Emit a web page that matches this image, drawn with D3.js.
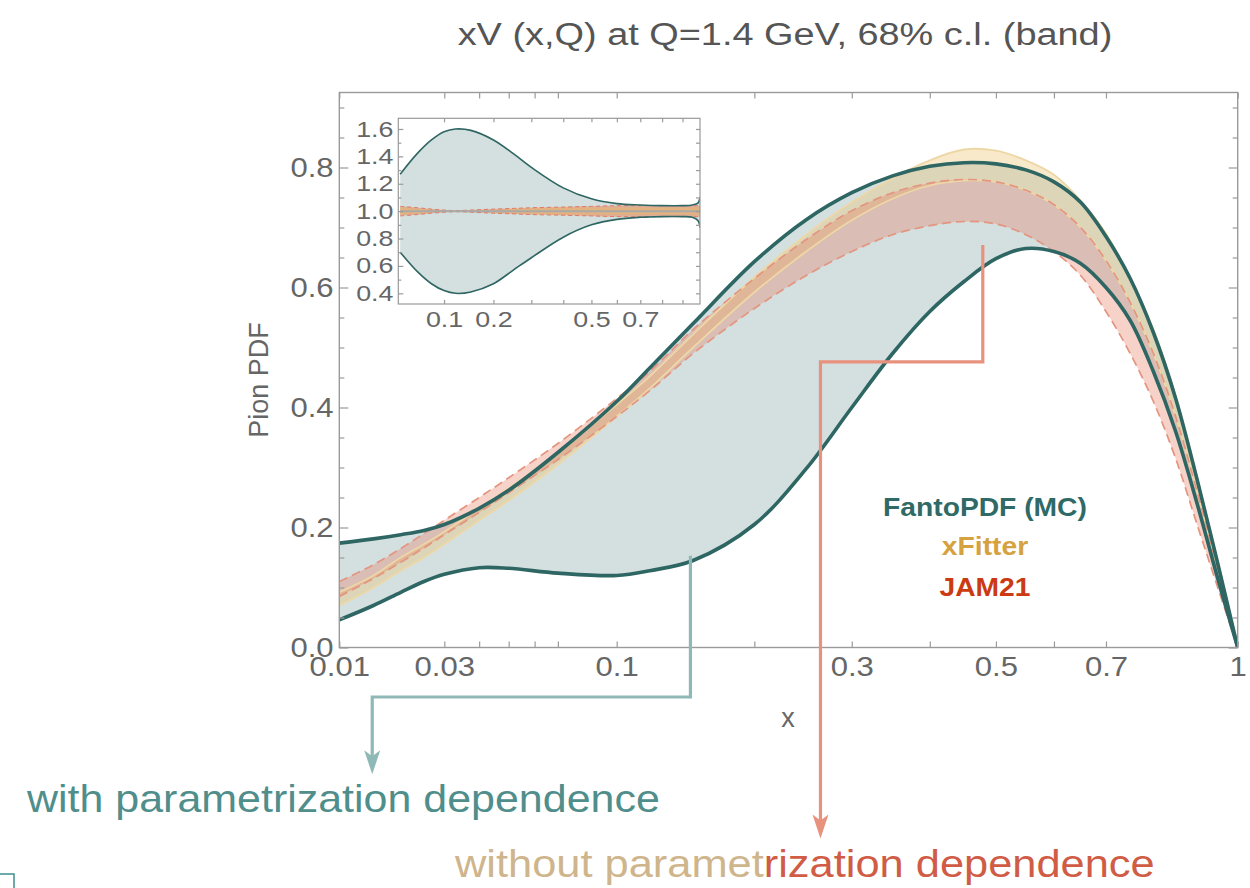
<!DOCTYPE html>
<html>
<head>
<meta charset="utf-8">
<script src="https://cdn.jsdelivr.net/npm/d3@7"></script>
<style>
body { margin: 0; background: #fff; }
text { font-family: "Liberation Sans", Arial, Helvetica, sans-serif; }
</style>
</head>
<body>
<svg id="chart" width="1250" height="888"></svg>
<script>
// ---- main panel data ----
var xGrid   = [0.01, 0.015, 0.02, 0.025, 0.03, 0.04, 0.05, 0.07, 0.1, 0.12, 0.15, 0.2, 0.25, 0.3,
               0.35, 0.4, 0.45, 0.5, 0.55, 0.6, 0.65, 0.7, 0.75, 0.8, 0.85, 0.9, 0.95, 1.0];
var fantoUp = [0.174, 0.181, 0.188, 0.195, 0.205, 0.232, 0.262, 0.325, 0.41, 0.466, 0.54, 0.643, 0.713, 0.758,
               0.786, 0.802, 0.808, 0.806, 0.796, 0.776, 0.742, 0.685, 0.615, 0.525, 0.415, 0.28, 0.14, 0.0];
var fantoLo = [0.046, 0.07, 0.092, 0.11, 0.122, 0.133, 0.132, 0.124, 0.12, 0.128, 0.145, 0.205, 0.298, 0.40,
               0.49, 0.56, 0.61, 0.648, 0.665, 0.66, 0.64, 0.60, 0.545, 0.46, 0.36, 0.24, 0.115, 0.0];
var xfUp    = [0.092, 0.12, 0.15, 0.172, 0.193, 0.232, 0.265, 0.325, 0.405, 0.452, 0.522, 0.617, 0.688, 0.742,
               0.782, 0.812, 0.83, 0.828, 0.812, 0.788, 0.745, 0.69, 0.615, 0.53, 0.42, 0.285, 0.145, 0.0];
var xfLo    = [0.07, 0.10, 0.128, 0.15, 0.172, 0.212, 0.245, 0.305, 0.385, 0.432, 0.50, 0.592, 0.66, 0.712,
               0.748, 0.77, 0.778, 0.776, 0.762, 0.738, 0.70, 0.645, 0.575, 0.49, 0.385, 0.26, 0.13, 0.0];
var jamUp   = [0.11, 0.138, 0.165, 0.19, 0.212, 0.25, 0.283, 0.34, 0.415, 0.46, 0.53, 0.615, 0.68, 0.728,
               0.758, 0.774, 0.78, 0.776, 0.762, 0.738, 0.70, 0.645, 0.575, 0.49, 0.385, 0.26, 0.13, 0.0];
var jamLo   = [0.085, 0.115, 0.142, 0.166, 0.188, 0.225, 0.258, 0.313, 0.385, 0.428, 0.49, 0.565, 0.62, 0.66,
               0.688, 0.703, 0.71, 0.706, 0.688, 0.66, 0.62, 0.56, 0.49, 0.41, 0.315, 0.205, 0.10, 0.0];

// ---- inset (ratio) data ----
var inX        = [0.04, 0.06, 0.08, 0.1, 0.12, 0.15, 0.2, 0.25, 0.3, 0.4, 0.5, 0.6, 0.7, 0.8, 0.9, 0.95, 0.98, 0.99];
var inFantoUp  = [1.27, 1.42, 1.52, 1.58, 1.60, 1.59, 1.52, 1.42, 1.32, 1.17, 1.09, 1.055, 1.045, 1.04, 1.04, 1.045, 1.06, 1.10];
var inFantoLo  = [0.70, 0.56, 0.47, 0.42, 0.40, 0.41, 0.47, 0.57, 0.66, 0.81, 0.90, 0.94, 0.955, 0.96, 0.96, 0.955, 0.93, 0.88];
var inJamUp    = [1.035, 1.025, 1.015, 1.008, 1.004, 1.008, 1.015, 1.02, 1.025, 1.03, 1.035, 1.04, 1.04, 1.04, 1.04, 1.04, 1.04, 1.04];
var inJamLo    = [0.965, 0.975, 0.985, 0.992, 0.996, 0.992, 0.985, 0.98, 0.975, 0.97, 0.965, 0.96, 0.96, 0.96, 0.96, 0.96, 0.96, 0.96];
var inXfUp     = [1.025, 1.018, 1.01, 1.005, 1.003, 1.005, 1.01, 1.015, 1.02, 1.025, 1.025, 1.025, 1.025, 1.025, 1.025, 1.025, 1.03, 1.03];
var inXfLo     = [0.975, 0.982, 0.99, 0.995, 0.997, 0.995, 0.99, 0.985, 0.98, 0.975, 0.975, 0.975, 0.975, 0.975, 0.975, 0.975, 0.97, 0.97];

// ---- ticks ----
var xMajor = [0.01, 0.03, 0.1, 0.3, 0.5, 0.7, 1];
var xMajorLabels = ["0.01", "0.03", "0.1", "0.3", "0.5", "0.7", "1"];
var xMinor = [0.04, 0.05, 0.06, 0.07, 0.2, 0.4, 0.6];
var yMajor = [0, 0.2, 0.4, 0.6, 0.8];
var yMinor = [0.05, 0.1, 0.15, 0.25, 0.3, 0.35, 0.45, 0.5, 0.55, 0.65, 0.7, 0.75, 0.85, 0.9];
var inXTicks = [0.1, 0.2, 0.3, 0.4, 0.5, 0.6, 0.7, 0.8, 0.9];
var inXLabels = [0.1, 0.2, 0.5, 0.7];
var inYMajor = [0.4, 0.6, 0.8, 1.0, 1.2, 1.4, 1.6];
var inYMinor = [0.5, 0.7, 0.9, 1.1, 1.3, 1.5];

var legendNames = ["FantoPDF (MC)", "xFitter", "JAM21"];
var legendColors = ["#2f6a66", "#d6a140", "#cc3a12"];

var teal = "#2e6663", tealFill = "#d4dfdf";
var svg = d3.select("#chart");

var x = d3.scalePow().exponent(0.35).domain([0.01, 1]).range([339.3, 1237.7]);
var y = d3.scaleLinear().domain([0, 0.925]).range([647.5, 92.5]);

var smooth = d3.curveCatmullRom.alpha(0.5);
function bandPath(xv, up, lo, xs, ys) {
    return d3.area()
        .x(function(d, i) { return xs(xv[i]); })
        .y0(function(d, i) { return ys(lo[i]); })
        .y1(function(d, i) { return ys(up[i]); })
        .curve(smooth)(xv);
}
function linePath(xv, v, xs, ys) {
    return d3.line()
        .x(function(d, i) { return xs(xv[i]); })
        .y(function(d, i) { return ys(v[i]); })
        .curve(smooth)(xv);
}

svg.append("clipPath").attr("id", "mainclip").append("rect")
    .attr("x", x.range()[0]).attr("y", y.range()[1])
    .attr("width", x.range()[1] - x.range()[0]).attr("height", y.range()[0] - y.range()[1]);

var plot = svg.append("g").attr("clip-path", "url(#mainclip)");

plot.append("path").attr("d", bandPath(xGrid, fantoUp, fantoLo, x, y)).attr("fill", tealFill);
plot.append("path").attr("d", bandPath(xGrid, xfUp, xfLo, x, y)).attr("fill", "rgb(236,196,118)").attr("fill-opacity", 0.38);
plot.append("path").attr("d", bandPath(xGrid, jamUp, jamLo, x, y)).attr("fill", "rgb(232,122,96)").attr("fill-opacity", 0.34);

[xfUp, xfLo].forEach(function(v) {
    plot.append("path").attr("d", linePath(xGrid, v, x, y))
        .attr("fill", "none").attr("stroke", "#eed7a6").attr("stroke-width", 1.8);
});
[jamUp, jamLo].forEach(function(v) {
    plot.append("path").attr("d", linePath(xGrid, v, x, y))
        .attr("fill", "none").attr("stroke", "#e39580").attr("stroke-width", 1.7)
        .attr("stroke-dasharray", "9,5");
});
[fantoUp, fantoLo].forEach(function(v) {
    plot.append("path").attr("d", linePath(xGrid, v, x, y))
        .attr("fill", "none").attr("stroke", teal).attr("stroke-width", 3.6);
});

// ---- main axes ----
var axisColor = "#9a9a9a", labelColor = "#666";
function axisStyler(size, stretch) {
    return function(g) {
        g.select(".domain").remove();
        g.selectAll(".tick line").attr("stroke", axisColor).attr("stroke-width", 1.2);
        g.selectAll(".tick text").attr("fill", labelColor).style("font-size", size + "px")
            .style("font-family", '"Liberation Sans", Arial, sans-serif')
            .attr("transform", "scale(" + stretch + ",1)");
    };
}
var styleAxis = axisStyler(27, 1.15);
var x0 = x.range()[0], x1 = x.range()[1], y0 = y.range()[0], y1 = y.range()[1];

svg.append("g").attr("transform", "translate(0," + y0 + ")")
    .call(d3.axisBottom(x).tickValues(xMajor).tickSize(-6).tickPadding(9)
        .tickFormat(function(d, i) { return xMajorLabels[i]; }))
    .call(styleAxis);
svg.append("g").attr("transform", "translate(0," + y0 + ")")
    .call(d3.axisBottom(x).tickValues(xMinor).tickSize(-6).tickFormat(""))
    .call(styleAxis);
svg.append("g").attr("transform", "translate(0," + y1 + ")")
    .call(d3.axisTop(x).tickValues(xMajor.concat(xMinor)).tickSize(-6).tickFormat(""))
    .call(styleAxis);
svg.append("g").attr("transform", "translate(" + x0 + ",0)")
    .call(d3.axisLeft(y).tickValues(yMajor).tickSize(-9).tickPadding(5).tickFormat(d3.format(".1f")))
    .call(styleAxis);
svg.append("g").attr("transform", "translate(" + x0 + ",0)")
    .call(d3.axisLeft(y).tickValues(yMinor).tickSize(-5).tickFormat(""))
    .call(styleAxis);
svg.append("g").attr("transform", "translate(" + x1 + ",0)")
    .call(d3.axisRight(y).tickValues(yMajor).tickSize(-9).tickFormat(""))
    .call(styleAxis);
svg.append("g").attr("transform", "translate(" + x1 + ",0)")
    .call(d3.axisRight(y).tickValues(yMinor).tickSize(-5).tickFormat(""))
    .call(styleAxis);
svg.append("rect").attr("x", x0).attr("y", y1).attr("width", x1 - x0).attr("height", y0 - y1)
    .attr("fill", "none").attr("stroke", axisColor).attr("stroke-width", 1.4);

// ---- inset ----
var xi = d3.scalePow().exponent(0.5).domain([0.038, 0.99]).range([398.3, 700]);
var yi = d3.scaleLinear().domain([0.322, 1.678]).range([304, 118.3]);
var xi0 = xi.range()[0], xi1 = xi.range()[1], yi0 = yi.range()[0], yi1 = yi.range()[1];

svg.append("rect").attr("x", xi0).attr("y", yi1).attr("width", xi1 - xi0).attr("height", yi0 - yi1).attr("fill", "#fff");
svg.append("clipPath").attr("id", "insetclip").append("rect")
    .attr("x", xi0).attr("y", yi1).attr("width", xi1 - xi0).attr("height", yi0 - yi1);
var inset = svg.append("g").attr("clip-path", "url(#insetclip)");
inset.append("path").attr("d", bandPath(inX, inFantoUp, inFantoLo, xi, yi)).attr("fill", tealFill);
inset.append("path").attr("d", bandPath(inX, inJamUp, inJamLo, xi, yi)).attr("fill", "rgb(232,125,80)").attr("fill-opacity", 0.5);
inset.append("path").attr("d", bandPath(inX, inXfUp, inXfLo, xi, yi)).attr("fill", "rgb(230,180,110)").attr("fill-opacity", 0.6);
[inJamUp, inJamLo].forEach(function(v) {
    inset.append("path").attr("d", linePath(inX, v, xi, yi)).attr("fill", "none")
        .attr("stroke", "#e07a60").attr("stroke-width", 1).attr("stroke-dasharray", "4,3");
});
inset.append("path").attr("d", linePath([inX[0], inX[inX.length - 1]], [1, 1], xi, yi))
    .attr("stroke", "#a9a9a9").attr("stroke-width", 2);
[inFantoUp, inFantoLo].forEach(function(v) {
    inset.append("path").attr("d", linePath(inX, v, xi, yi)).attr("fill", "none")
        .attr("stroke", teal).attr("stroke-width", 1.6);
});

var styleInset = axisStyler(22, 1.22);
svg.append("g").attr("transform", "translate(0," + yi0 + ")")
    .call(d3.axisBottom(xi).tickValues(inXTicks).tickSize(-4).tickFormat(""))
    .call(styleInset);
svg.append("g").attr("transform", "translate(0," + yi0 + ")")
    .call(d3.axisBottom(xi).tickValues(inXLabels).tickSize(0).tickPadding(7).tickFormat(d3.format(".1f")))
    .call(styleInset);
svg.append("g").attr("transform", "translate(0," + yi1 + ")")
    .call(d3.axisTop(xi).tickValues(inXTicks).tickSize(-4).tickFormat(""))
    .call(styleInset);
svg.append("g").attr("transform", "translate(" + xi0 + ",0)")
    .call(d3.axisLeft(yi).tickValues(inYMajor).tickSize(-5).tickPadding(4).tickFormat(d3.format(".1f")))
    .call(styleInset);
svg.append("g").attr("transform", "translate(" + xi0 + ",0)")
    .call(d3.axisLeft(yi).tickValues(inYMinor).tickSize(-3).tickFormat(""))
    .call(styleInset);
svg.append("g").attr("transform", "translate(" + xi1 + ",0)")
    .call(d3.axisRight(yi).tickValues(inYMajor.concat(inYMinor)).tickSize(-4).tickFormat(""))
    .call(styleInset);
svg.append("rect").attr("x", xi0).attr("y", yi1).attr("width", xi1 - xi0).attr("height", yi0 - yi1)
    .attr("fill", "none").attr("stroke", axisColor).attr("stroke-width", 1.2);

// ---- labels ----
function stretchText(sel, width) {
    var w = sel.node().getComputedTextLength();
    var ax = +sel.attr("x"), ay = +sel.attr("y");
    sel.attr("transform", "translate(" + ax + "," + ay + ") scale(" + (width / w) + ",1) translate(" + (-ax) + "," + (-ay) + ")");
    return width / w;
}
var title = svg.append("text").attr("x", 785).attr("y", 45).attr("text-anchor", "middle")
    .attr("fill", "#555").style("font-size", "31px").text("xV (x,Q) at Q=1.4 GeV, 68% c.l. (band)");
stretchText(title, 655);

svg.append("text").attr("transform", "translate(268,380) rotate(-90)").attr("text-anchor", "middle")
    .attr("fill", "#666").style("font-size", "27px").text("Pion PDF");
svg.append("text").attr("x", 788).attr("y", 727).attr("text-anchor", "middle")
    .attr("fill", "#666").style("font-size", "27px").text("x");

var legendBase = [516, 555, 596];
var legendStretch = 1;
legendNames.forEach(function(n, i) {
    var t = svg.append("text").attr("x", 985).attr("y", legendBase[i]).attr("text-anchor", "middle")
        .attr("fill", legendColors[i]).style("font-size", "25px").style("font-weight", "bold").text(n);
    if (i === 0) {
        legendStretch = stretchText(t, 204);
    } else {
        t.attr("transform", "translate(985," + legendBase[i] + ") scale(" + legendStretch + ",1) translate(-985," + (-legendBase[i]) + ")");
    }
});

// ---- annotation arrows (anchored in data coordinates) ----
var tealArrow = [[0.148, 0.153], [0.148, -0.0825], [0.0148, -0.0825], [0.0148, -0.188]];
var redArrow = [[0.479, 0.671], [0.479, 0.476], [0.265, 0.476], [0.265, -0.295]];
function drawArrow(pts, color) {
    var p = pts.map(function(d) { return [x(d[0]), y(d[1])]; });
    svg.append("path").attr("d", d3.line()(p)).attr("fill", "none")
        .attr("stroke", color).attr("stroke-width", 3.2);
    var t = p[p.length - 1];
    svg.append("path")
        .attr("d", "M" + t[0] + "," + (t[1] + 14) + " L" + (t[0] - 8) + "," + (t[1] - 10) +
            " L" + t[0] + "," + (t[1] - 4) + " L" + (t[0] + 8) + "," + (t[1] - 10) + " Z")
        .attr("fill", color);
}
drawArrow(tealArrow, "#8fb9b6");
drawArrow(redArrow, "#e8927d");

var t1 = svg.append("text").attr("x", 27).attr("y", 812).attr("fill", "#4f8e8b")
    .style("font-size", "38px").text("with parametrization dependence");
stretchText(t1, 633);
var t2 = svg.append("text").attr("x", 455).attr("y", 877).style("font-size", "38px");
t2.append("tspan").attr("fill", "#cfb58c").text("without paramet");
t2.append("tspan").attr("fill", "#d05c45").text("rization dependence");
stretchText(t2, 700);

svg.append("path").attr("d", "M0,874 H14 V888").attr("fill", "none")
    .attr("stroke", "#3f8f8a").attr("stroke-width", 1.5);
</script>
</body>
</html>
